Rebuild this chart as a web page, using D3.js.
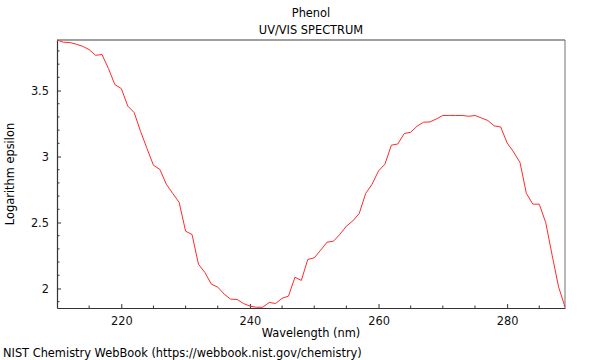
<!DOCTYPE html>
<html><head><meta charset="utf-8">
<script src="https://cdn.jsdelivr.net/npm/d3@7"></script>
<style>body{margin:0;background:#fff;} svg{display:block;font-family:"DejaVu Sans",sans-serif;}</style>
</head><body>
<svg id="c" width="600" height="360"></svg>
<script>
const wavelengths = d3.range(210, 290);
const logEpsilon = [3.883,3.866,3.864,3.851,3.835,3.81,3.767,3.773,3.667,3.545,
3.515,3.383,3.333,3.19,3.06,2.934,2.902,2.79,2.72,2.652,
2.434,2.409,2.184,2.121,2.033,2.010,1.957,1.919,1.917,1.886,
1.866,1.858,1.858,1.894,1.886,1.926,1.942,2.085,2.061,2.220,
2.232,2.290,2.351,2.358,2.411,2.472,2.512,2.568,2.720,2.790,
2.891,2.942,3.086,3.095,3.174,3.184,3.23,3.26,3.262,3.285,
3.311,3.311,3.311,3.311,3.305,3.311,3.292,3.273,3.232,3.224,
3.103,3.035,2.955,2.72,2.639,2.639,2.50,2.252,2.012,1.86];
const xMajor = [220,240,260,280];
const yMajor = [2,2.5,3,3.5];
const title = "Phenol", subtitle = "UV/VIS SPECTRUM";
const xLabel = "Wavelength (nm)", yLabel = "Logarithm epsilon";
const footer = "NIST Chemistry WebBook (https://webbook.nist.gov/chemistry)";

const FS = 11.4;
const L=57, R=565, T=40, B=308;
const svg = d3.select("#c");
const x = d3.scaleLinear().domain([210,289]).range([L,R]);
const y = d3.scaleLinear().domain([1.852,3.883]).range([B,T]);

// frame top/right
svg.append("line").attr("x1",L).attr("x2",R).attr("y1",T).attr("y2",T).attr("stroke","#a0a0a0").attr("stroke-width",2);
svg.append("line").attr("x1",R).attr("x2",R).attr("y1",T).attr("y2",B).attr("stroke","#707070").attr("stroke-width",1);

// minor ticks
const xMinor = d3.range(210,290,5).filter(v=>!xMajor.includes(v) && v>210);
const yMinor = d3.range(1.9,3.9,0.1).map(v=>+v.toFixed(1)).filter(v=>!yMajor.includes(v));
const gx = svg.append("g").attr("transform",`translate(0,${B})`)
  .call(d3.axisBottom(x).tickValues(xMajor).tickFormat(d3.format("d")).tickSizeInner(-4).tickSizeOuter(0).tickPadding(9));
gx.selectAll(".minor").data(xMinor).enter().append("line").attr("x1",d=>x(d)).attr("x2",d=>x(d)).attr("y1",0).attr("y2",-2.5).attr("stroke","#333");
const gy = svg.append("g").attr("transform",`translate(${L},0)`)
  .call(d3.axisLeft(y).tickValues(yMajor).tickFormat(d=>d===2||d===3?String(d):d3.format(".1f")(d)).tickSizeInner(-4).tickSizeOuter(0).tickPadding(8));
gy.selectAll(".minor").data(yMinor).enter().append("line").attr("x1",0).attr("x2",2.5).attr("y1",d=>y(d)).attr("y2",d=>y(d)).attr("stroke","#333");
[gx,gy].forEach(g=>{
  g.select(".domain").attr("stroke","#333").attr("stroke-width",1.2);
  g.selectAll(".tick line").attr("stroke","#333");
  g.selectAll(".tick text").attr("font-size",FS).attr("font-family","DejaVu Sans").attr("fill","#111");
});

// curve
svg.append("path").datum(wavelengths.map((w,i)=>[w,logEpsilon[i]]))
  .attr("fill","none").attr("stroke","#ff2a2a").attr("stroke-width",1)
  .attr("d",d3.line().x(d=>x(d[0])).y(d=>y(d[1])));

// texts
const cx=(L+R)/2;
svg.append("text").attr("x",cx).attr("y",17).attr("text-anchor","middle").attr("font-size",FS).text(title);
svg.append("text").attr("x",cx).attr("y",34).attr("text-anchor","middle").attr("font-size",FS).text(subtitle);
svg.append("text").attr("x",cx).attr("y",337).attr("text-anchor","middle").attr("font-size",FS).text(xLabel);
svg.append("text").attr("transform",`translate(14,${(T+B)/2}) rotate(-90)`).attr("text-anchor","middle").attr("font-size",FS).text(yLabel);
svg.append("text").attr("x",3).attr("y",357).attr("font-size",FS).text(footer);
</script>
</body></html>
